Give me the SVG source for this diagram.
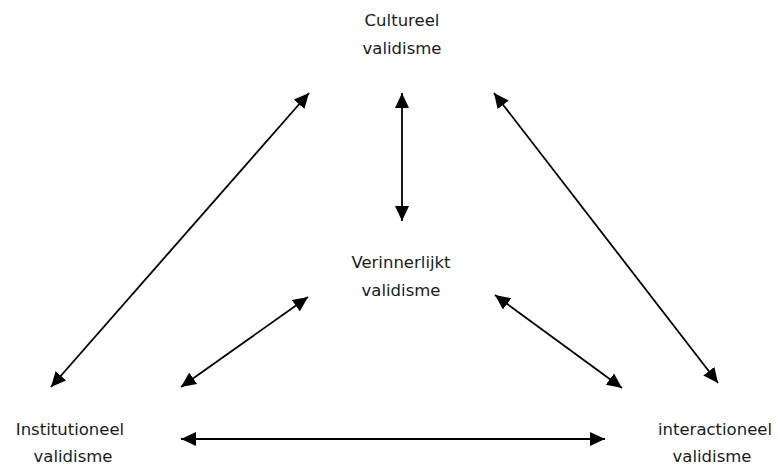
<svg xmlns="http://www.w3.org/2000/svg" width="779" height="467" viewBox="0 0 779 467">
<style>
text{font-family:"DejaVu Sans",sans-serif;font-size:16.5px;fill:#1a1a1a;text-anchor:middle}
.c{stroke:#000;stroke-width:1.8;fill:none;marker-start:url(#a);marker-end:url(#a)}
</style>
<defs>
<marker id="a" viewBox="0 0 15 14" refX="15" refY="7" markerWidth="15" markerHeight="14" markerUnits="userSpaceOnUse" orient="auto-start-reverse">
<path d="M0,0 L15,7 L0,14 z" fill="#000"/>
</marker>
</defs>
<rect width="779" height="467" fill="#fff"/>
<g id="connectors">
<line class="c" x1="309" y1="93" x2="51" y2="387"/>
<line class="c" x1="402" y1="93" x2="402" y2="221"/>
<line class="c" x1="494" y1="93" x2="718" y2="383"/>
<line class="c" x1="308" y1="297" x2="181" y2="387"/>
<line class="c" x1="495" y1="295" x2="622" y2="388"/>
<line class="c" x1="181" y1="439" x2="605" y2="439"/>
</g>
<g id="cultureel"><text x="402" y="26">Cultureel</text><text x="402" y="54">validisme</text></g>
<g id="verinnerlijkt"><text x="401" y="268">Verinnerlijkt</text><text x="401" y="296">validisme</text></g>
<g id="institutioneel"><text x="70" y="435">Institutioneel</text><text x="73" y="462">validisme</text></g>
<g id="interactioneel"><text x="715" y="435">interactioneel</text><text x="712" y="462">validisme</text></g>
</svg>
